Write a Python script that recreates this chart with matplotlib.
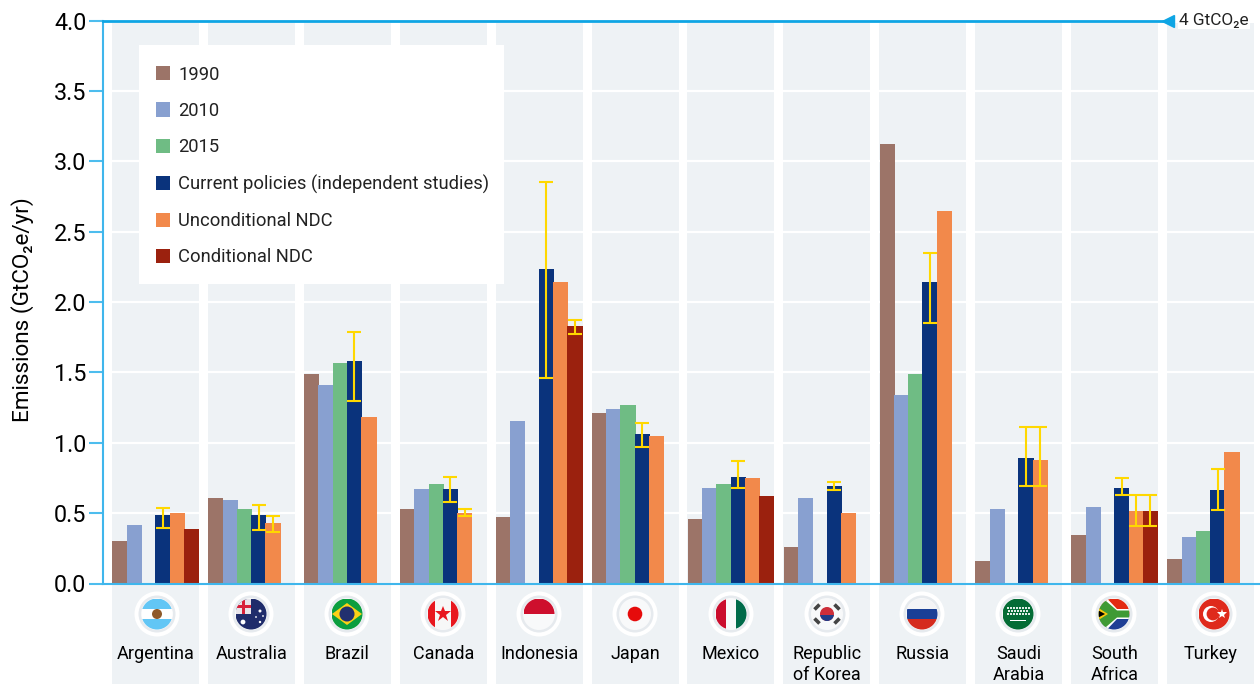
import numpy as np
import matplotlib
matplotlib.use('Agg')
import matplotlib.pyplot as plt
from matplotlib.patches import Rectangle, Circle, Polygon, Patch

nan = np.nan

countries = ['Argentina', 'Australia', 'Brazil', 'Canada', 'Indonesia', 'Japan', 'Mexico',
             'Republic\nof Korea', 'Russia', 'Saudi\nArabia', 'South\nAfrica', 'Turkey']
series_names = ['1990', '2010', '2015', 'Current policies (independent studies)',
                'Unconditional NDC', 'Conditional NDC']
series_colors = ['#9c7468', '#88a0d0', '#6fbc84', '#0a337c', '#f2894b', '#9b210e']
y_ticks = [0.0, 0.5, 1.0, 1.5, 2.0, 2.5, 3.0, 3.5, 4.0]

e1990 = [0.30, 0.61, 1.49, 0.53, 0.47, 1.21, 0.46, 0.26, 3.12, 0.16, 0.345, 0.175]
e2010 = [0.415, 0.595, 1.41, 0.67, 1.155, 1.24, 0.68, 0.61, 1.34, 0.53, 0.545, 0.33]
e2015 = [nan, 0.53, 1.57, 0.705, nan, 1.27, 0.71, nan, 1.49, nan, nan, 0.375]
current = [0.49, 0.49, 1.58, 0.67, 2.235, 1.06, 0.76, 0.69, 2.14, 0.89, 0.68, 0.665]
uncond = [0.50, 0.43, 1.18, 0.50, 2.14, 1.05, 0.75, 0.50, 2.65, 0.88, 0.515, 0.935]
cond = [0.385, nan, nan, nan, 1.83, nan, 0.62, nan, nan, nan, 0.515, nan]

current_low = [0.395, 0.38, 1.30, 0.58, 1.46, 0.97, 0.68, 0.667, 1.85, 0.69, 0.626, 0.524]
current_high = [0.535, 0.555, 1.79, 0.76, 2.85, 1.14, 0.87, 0.72, 2.35, 1.11, 0.75, 0.81]
uncond_low = [nan, 0.367, nan, 0.481, nan, nan, nan, nan, nan, 0.69, 0.412, nan]
uncond_high = [nan, 0.483, nan, 0.529, nan, nan, nan, nan, nan, 1.11, 0.626, nan]
cond_low = [nan, nan, nan, nan, 1.77, nan, nan, nan, nan, nan, 0.412, nan]
cond_high = [nan, nan, nan, nan, 1.87, nan, nan, nan, nan, nan, 0.626, nan]

flag_x = [157, 251, 347, 443, 539, 635, 731, 827, 922, 1018, 1114, 1214]
FLAG_Y = 614

plt.rcParams['font.family'] = ['Roboto', 'DejaVu Sans']
plt.rcParams['text.color'] = '#222222'

W, H = 1260, 684
fig = plt.figure(figsize=(W / 100, H / 100), dpi=100)
ax = fig.add_axes([103 / W, 1 - 583.5 / H, (W - 103) / W, (583.5 - 20.5) / H])

PERIOD = 95.9
ax.set_xlim((103 - 155.5) / PERIOD, (W - 155.5) / PERIOD)
ax.set_ylim(0, 4)

# grey column behind each country, runs down behind the flag and label
idx = np.arange(len(countries))
for i in idx:
    ax.add_patch(Rectangle((i - 43.5 / PERIOD, -0.713), 87 / PERIOD, 3.98 + 0.713,
                           facecolor='#eef2f5', edgecolor='none', clip_on=False, zorder=0.2))

ax.set_axisbelow(True)
ax.yaxis.grid(True, color='white', linewidth=1.6)
ax.xaxis.grid(False)

step = 14.3 / PERIOD
bar_w = 15.2 / PERIOD
all_series = [e1990, e2010, e2015, current, uncond, cond]
for k, (vals, col) in enumerate(zip(all_series, series_colors)):
    ax.bar(idx + (k - 2.5) * step + 0.2 / PERIOD, vals, width=bar_w, color=col, zorder=2 + k * 0.01)


def whiskers(k, vals, low, high):
    vals, low, high = np.array(vals), np.array(low), np.array(high)
    ax.errorbar(idx + (k - 2.5) * step, vals, yerr=[vals - low, high - vals], fmt='none',
                ecolor='#ffd800', elinewidth=1.5, capsize=4.7, capthick=1.5, zorder=3)


whiskers(3, current, current_low, current_high)
whiskers(4, uncond, uncond_low, uncond_high)
whiskers(5, cond, cond_low, cond_high)

line_col = '#3fb6ec'
ax.set_yticks(y_ticks)
ax.set_yticklabels([f'{v:.1f}' for v in y_ticks], fontsize=16.8)
ax.tick_params(axis='y', length=10, width=1.5, color='#4dbdee', pad=2)
ax.set_ylabel('Emissions (GtCO₂e/yr)', fontsize=16.2)
ax.yaxis.set_label_coords(-69 / (W - 103), 0.487)
ax.set_xticks(idx)
ax.set_xticklabels(countries, fontsize=13, linespacing=1.2)
ax.tick_params(axis='x', length=0, pad=44.5)
for side in ['top', 'right']:
    ax.spines[side].set_visible(False)
ax.spines['left'].set_color(line_col)
ax.spines['left'].set_linewidth(1.5)
ax.spines['bottom'].set_color(line_col)
ax.spines['bottom'].set_linewidth(1.5)

# 4 Gt ceiling line with arrow head and its note
x_end = (1168 - 155.5) / PERIOD
ax.plot([ax.get_xlim()[0], x_end], [4, 4], color='#0ea5e4', linewidth=2, clip_on=False, zorder=4)
ax.plot([x_end], [4], marker='<', color='#0ea5e4', markersize=8, clip_on=False, zorder=4)
ax.text((1179 - 155.5) / PERIOD, 4, '4 GtCO₂e', fontsize=12.4, va='center', ha='left',
        bbox=dict(facecolor='white', edgecolor='none', pad=1.0), zorder=4)

# white card behind the legend, its size does not follow the legend's own frame
ax.add_patch(Rectangle(((139 - 103) / (W - 103), 1 - (284 - 20.5) / 563), 365 / (W - 103), 239 / 563,
                       transform=ax.transAxes, facecolor='white', edgecolor='none', zorder=4.5))
handles = [Patch(facecolor=c, edgecolor='none') for c in series_colors]
leg = ax.legend(handles, series_names, loc='upper left',
                bbox_to_anchor=((139 - 103) / (W - 103), 1 - (49 - 20.5) / 563),
                borderaxespad=0, fontsize=13.2, frameon=False,
                handlelength=0.81, handleheight=0.81,
                handletextpad=0.43, labelspacing=1.0, borderpad=0.9)
leg.set_zorder(5)

# flags, in a pixel overlay
ov = fig.add_axes([0, 0, 1, 1])
ov.set_xlim(0, W)
ov.set_ylim(H, 0)
ov.axis('off')
ov.patch.set_alpha(0)
R = 15.5


def rect(cx, x0, y0, x1, y1, col, clip):
    p = Rectangle((cx + x0, FLAG_Y + y0), x1 - x0, y1 - y0, facecolor=col, edgecolor='none')
    ov.add_patch(p)
    p.set_clip_path(clip)


def poly(cx, pts, col, clip):
    p = Polygon([(cx + a, FLAG_Y + b) for a, b in pts], facecolor=col, edgecolor='none')
    ov.add_patch(p)
    p.set_clip_path(clip)


def disc(cx, dx, dy, r, col):
    ov.add_patch(Circle((cx + dx, FLAG_Y + dy), r, facecolor=col, edgecolor='none'))


def draw_flag(name, cx):
    disc(cx, 0, 0, 22.5, 'white')
    disc(cx, 0, 0, 18.5, '#e6eaee')
    disc(cx, 0, 0, 16, '#f8f9fa')
    clip = Circle((cx, FLAG_Y), R, transform=ov.transData)
    if name == 'Argentina':
        rect(cx, -R, -R, R, -5, '#62c6f5', clip)
        rect(cx, -R, 5, R, R, '#62c6f5', clip)
        rect(cx, -R, -5, R, 5, 'white', clip)
        disc(cx, 0, 0, 5, '#8f5a2a')
    elif name == 'Australia':
        rect(cx, -R, -R, R, R, '#1f2c6b', clip)
        rect(cx, -R, -R, -0.5, 0, '#e8e4ea', clip)
        rect(cx, -R, -9, -0.5, -6, '#d8213b', clip)
        rect(cx, -9, -R, -6, 0, '#d8213b', clip)
        for dx, dy, r in [(-8, 8, 2.4), (9, -3, 1.5), (9, 8, 1.2), (5, 3, 0.9), (12, 2, 0.9)]:
            disc(cx, dx, dy, r, 'white')
    elif name == 'Brazil':
        rect(cx, -R, -R, R, R, '#0b9e3f', clip)
        poly(cx, [(-15, 0), (0, -11), (15, 0), (0, 11)], '#fcd116', clip)
        disc(cx, 0, 0, 7.5, '#22306f')
    elif name == 'Canada':
        rect(cx, -R, -R, R, R, '#f7f7f7', clip)
        rect(cx, -R, -R, -8, R, '#e8171f', clip)
        rect(cx, 8, -R, R, R, '#e8171f', clip)
        ov.plot([cx], [FLAG_Y], marker='*', color='#e8171f', markersize=12, markeredgewidth=0)
    elif name == 'Indonesia':
        rect(cx, -R, -R, R, 0, '#ce0f2d', clip)
    elif name == 'Japan':
        disc(cx, 0, 0, 7.3, '#e60b0b')
    elif name == 'Mexico':
        rect(cx, -R, -R, -5, R, '#cb0d2d', clip)
        rect(cx, 5, -R, R, R, '#006b4a', clip)
    elif name == 'Republic\nof Korea':
        disc(cx, 0, 0, 7, '#cd2e3a')
        p = Rectangle((cx - 7, FLAG_Y + 1), 14, 6, facecolor='#1f3c88', edgecolor='none')
        ov.add_patch(p)
        p.set_clip_path(Circle((cx, FLAG_Y), 7, transform=ov.transData))
        for dx, dy in [(-10, -7), (10, -7), (-10, 7), (10, 7)]:
            s = -np.sign(dx * dy)
            ov.plot([cx + dx - 2.5, cx + dx + 2.5], [FLAG_Y + dy - 2.5 * s, FLAG_Y + dy + 2.5 * s],
                    color='#444444', linewidth=2.6, solid_capstyle='butt')
    elif name == 'Russia':
        rect(cx, -R, -R, R, -5, '#f4f4f6', clip)
        rect(cx, -R, -5, R, 5, '#1a3f96', clip)
        rect(cx, -R, 5, R, R, '#d52b1e', clip)
    elif name == 'Saudi\nArabia':
        rect(cx, -R, -R, R, R, '#046c35', clip)
        for row, dy in enumerate([-7, -4, -1]):
            for dx in np.arange(-11 + row % 2, 11, 3):
                rect(cx, dx, dy, dx + 2, dy + 2, '#dfeee5', clip)
        rect(cx, -8, 6, 8, 7, 'white', clip)
    elif name == 'South\nAfrica':
        rect(cx, -R, -R, R, 0, '#e32a12', clip)
        rect(cx, -R, 0, R, R, '#1f3f95', clip)
        poly(cx, [(-R, -R), (-7, -R), (3, -5), (R, -5), (R, 5), (3, 5), (-7, R), (-R, R)], 'white', clip)
        poly(cx, [(-R, -13), (-8, -13), (3, -3.5), (R, -3.5), (R, 3.5), (3, 3.5), (-8, 13), (-R, 13)],
             '#3f9a35', clip)
        poly(cx, [(-R, -6), (-6, 0), (-R, 6)], '#f9c80e', clip)
        poly(cx, [(-R, -3.5), (-9, 0), (-R, 3.5)], 'black', clip)
    elif name == 'Turkey':
        rect(cx, -R, -R, R, R, '#df2a1c', clip)
        disc(cx, -3, 0, 8, 'white')
        disc(cx, -1, 0, 6.4, '#df2a1c')
        ov.plot([cx + 8], [FLAG_Y], marker='*', color='white', markersize=7, markeredgewidth=0)


for name, cx in zip(countries, flag_x):
    draw_flag(name, cx)

fig.savefig('out.png', dpi=100)
